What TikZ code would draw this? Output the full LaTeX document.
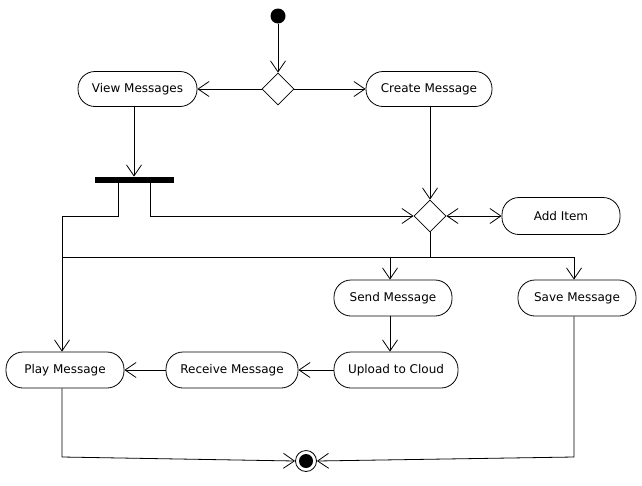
\documentclass[tikz,border=0pt]{standalone}
\usepackage{fontspec}
\setmainfont{DejaVu Sans}
\usetikzlibrary{arrows.meta,shapes.geometric}
\begin{document}
\begin{tikzpicture}[x=1pt,y=-1pt,
  line width=0.8pt,
  act/.style={draw,rounded corners=17pt,minimum height=35pt,inner sep=0pt,font=\fontsize{12}{14}\selectfont},
  dec/.style={draw,diamond,minimum width=32pt,minimum height=32pt,inner sep=0pt},
  arr/.style={-{Straight Barb[length=11pt,width=15pt]}},
  darr/.style={{Straight Barb[length=11pt,width=15pt]}-{Straight Barb[length=11pt,width=15pt]}}]
\fill[white] (0,0) rectangle (642,485);
\useasboundingbox (0,0) rectangle (642,485);
% nodes
\node[circle,fill=black,minimum size=15pt,inner sep=0pt] (start) at (278,16) {};
\node[dec] (d1) at (278,89) {};
\node[act,minimum width=119pt] (vm) at (137.5,89) {View Messages};
\node[act,minimum width=126pt] (cm) at (429,89) {Create Message};
\node[fill=black,minimum width=79pt,minimum height=6pt,inner sep=0pt] (bar) at (134,180) {};
\node[dec] (d2) at (430,216) {};
\node[act,minimum width=118pt,minimum height=37pt] (ai) at (561,216) {Add Item};
\node[act,minimum width=118pt,minimum height=36pt] (sm) at (393,298) {Send Message};
\node[act,minimum width=118pt,minimum height=36pt] (sv) at (577,298) {Save Message};
\node[act,minimum width=124pt,minimum height=36pt] (uc) at (396,370) {Upload to Cloud};
\node[act,minimum width=132pt,minimum height=36pt] (rm) at (232,370) {Receive Message};
\node[act,minimum width=118pt,minimum height=36pt] (pm) at (65,370) {Play Message};
\node[circle,draw,minimum size=21pt,inner sep=0pt] (endn) at (306,461) {};
\fill[black] (endn.center) circle (7pt);
% helper coordinates
\coordinate (lx) at (62,0);
\coordinate (sx) at (390,0);
\coordinate (vx) at (574,0);
\coordinate (j1) at (118,216);
\coordinate (j2) at (150,216);
\coordinate (h) at (0,257);
\coordinate (b1) at (0,457);
% connectors
\draw[arr] (start) -- (d1.north);
\draw[arr] (d1.west) -- (vm.east);
\draw[arr] (d1.east) -- (cm.west);
\draw[arr] (vm.south -| bar) -- (bar.north);
\draw[arr] (bar.south -| j1) -- (j1) -- (j1 -| lx) -- (pm.north -| lx);
\draw[arr] (bar.south -| j2) -- (j2) -- (d2.west);
\draw[arr] (cm.south -| d2.north) -- (d2.north);
\draw[darr] (d2.east) -- (ai.west);
\draw (d2.south) -- (h -| d2.south);
\draw (h -| lx) -- (h -| vx);
\draw[arr] (h -| sx) -- (sm.north -| sx);
\draw[arr] (h -| vx) -- (sv.north -| vx);
\draw[arr] (sm.south -| sx) -- (uc.north -| sx);
\draw[arr] (uc.west) -- (rm.east);
\draw[arr] (rm.west) -- (pm.east);
\draw[arr] (pm.south -| lx) -- (b1 -| lx) -- (endn.west);
\draw[arr] (sv.south -| vx) -- (b1 -| vx) -- (endn.east);
\end{tikzpicture}
\end{document}
